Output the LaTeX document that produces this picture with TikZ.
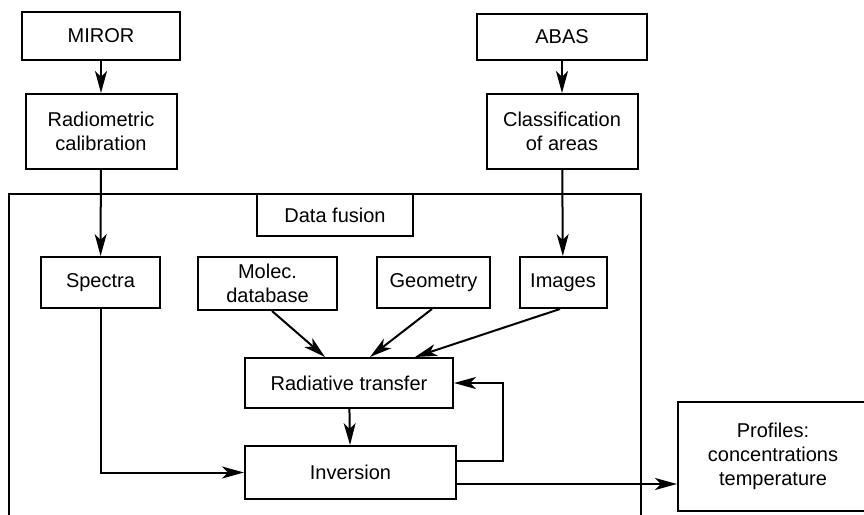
\documentclass[tikz,border=0pt]{standalone}
\usepackage{fontspec}
\setmainfont{Liberation Sans}
\usetikzlibrary{arrows.meta}
\begin{document}
\begin{tikzpicture}[x=0.5pt, y=-0.5pt, line width=1pt, >={Stealth[length=11pt, width=6pt, inset=3pt]}]
	\tikzstyle{r} = [draw, shape=rectangle, align=center, inner sep=0pt]
	\useasboundingbox (0,0) rectangle (864,515);
	\draw (9,515) -- (9,194) -- (641,194) -- (641,515);
	\node[r, minimum width=79pt, minimum height=24pt] (miror) at (101,36) {MIROR};
	\node[r, minimum width=75.5pt, minimum height=37.5pt] (radcal) at (101,131.5) {Radiometric\\calibration};
	\node[r, minimum width=85pt, minimum height=23pt] (abas) at (562,37) {ABAS};
	\node[r, minimum width=75.5pt, minimum height=37.5pt] (classif) at (562,131.5) {Classification\\of areas};
	\node[r, minimum width=78pt, minimum height=21pt] (fusion) at (335,215) {Data fusion};
	\node[r, minimum width=59.5pt, minimum height=25.5pt] (spectra) at (100.5,282.5) {Spectra};
	\node[r, minimum width=69.5pt, minimum height=26.5pt] (molec) at (267.5,283.5) {Molec.\\database};
	\node[r, minimum width=56.5pt, minimum height=25.5pt] (geometry) at (433.5,282.5) {Geometry};
	\node[r, minimum width=43.5pt, minimum height=25.5pt] (images) at (563,282.5) {Images};
	\node[r, minimum width=104pt, minimum height=25pt] (radtr) at (349,383) {Radiative transfer};
	\node[r, minimum width=105.5pt, minimum height=26.5pt] (inversion) at (350.5,472.5) {Inversion};
	\node[r, minimum width=95pt, minimum height=54.5pt] (profiles) at (773,456.5) {Profiles:\\concentrations\\temperature};
	\coordinate (loop) at (503,461);
	\draw[->] (miror) -- (radcal);
	\draw[->] (abas) -- (classif);
	\draw[->] (radcal) -- (spectra);
	\draw[->] (classif) -- (images);
	\draw[->] (molec.south -| 272,0) -- (radtr.north -| 325,0);
	\draw[->] (geometry.south -| 432,0) -- (radtr.north -| 370,0);
	\draw[->] (images.south -| 560,0) -- (radtr.north -| 415,0);
	\draw[->] (radtr) -- (inversion);
	\draw[->] (spectra) |- (inversion);
	\draw[->] (inversion.east |- loop) -- (loop) |- (radtr.east);
	\draw[->] (inversion.east |- 0,484) -- (profiles.west |- 0,484);
\end{tikzpicture}
\end{document}
